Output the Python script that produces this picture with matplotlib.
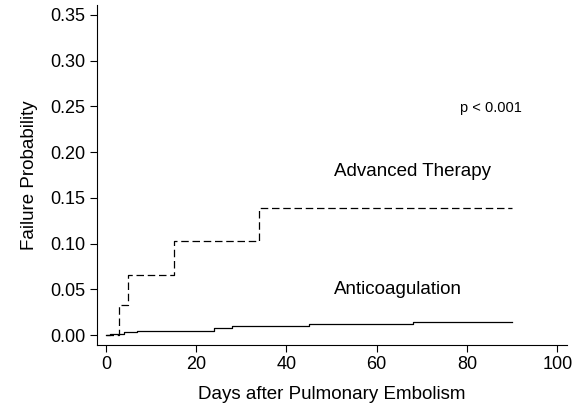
import numpy as np
import matplotlib
matplotlib.use("Agg")
import matplotlib.pyplot as plt

plt.rcParams['font.family'] = ['Liberation Sans', 'DejaVu Sans']

# step curves (days, failure probability)
adv_days = [0, 3, 5, 15, 34, 90]
adv_prob = [0.0, 0.0325, 0.066, 0.1025, 0.139, 0.139]
anti_days = [0, 1, 4, 7, 24, 28, 45, 68, 90]
anti_prob = [0.0, 0.0015, 0.003, 0.005, 0.0073, 0.0098, 0.0117, 0.0139, 0.0139]

yticks = [0.00, 0.05, 0.10, 0.15, 0.20, 0.25, 0.30, 0.35]
xticks = [0, 20, 40, 60, 80, 100]

fig = plt.figure(figsize=(5.8, 4.09), dpi=100)
ax = fig.add_axes([0.167, 0.156, 0.811, 0.832])

ax.step(adv_days, adv_prob, where='post', color='black', lw=0.9,
        linestyle=(0, (6, 3)))
ax.step(anti_days, anti_prob, where='post', color='black', lw=0.9)

ax.set_xlim(-2, 102.2)
ax.set_ylim(-0.011, 0.361)
ax.set_xticks(xticks)
ax.set_yticks(yticks)
ax.set_yticklabels(['%.2f' % v for v in yticks])
ax.tick_params(labelsize=13, length=5, width=0.8, pad=3)
ax.spines['top'].set_visible(False)
ax.spines['right'].set_visible(False)
ax.spines['left'].set_linewidth(0.8)
ax.spines['bottom'].set_linewidth(0.8)

ax.set_xlabel('Days after Pulmonary Embolism', fontsize=13.5, labelpad=9)
ax.set_ylabel('Failure Probability', fontsize=13.5, labelpad=9)

ax.text(85.4, 0.248, 'p < 0.001', fontsize=10.5, ha='center', va='center')
ax.text(68, 0.179, 'Advanced Therapy', fontsize=13.5, ha='center', va='center')
ax.text(64.7, 0.050, 'Anticoagulation', fontsize=13.5, ha='center', va='center')

fig.savefig('out.png', dpi=100)
